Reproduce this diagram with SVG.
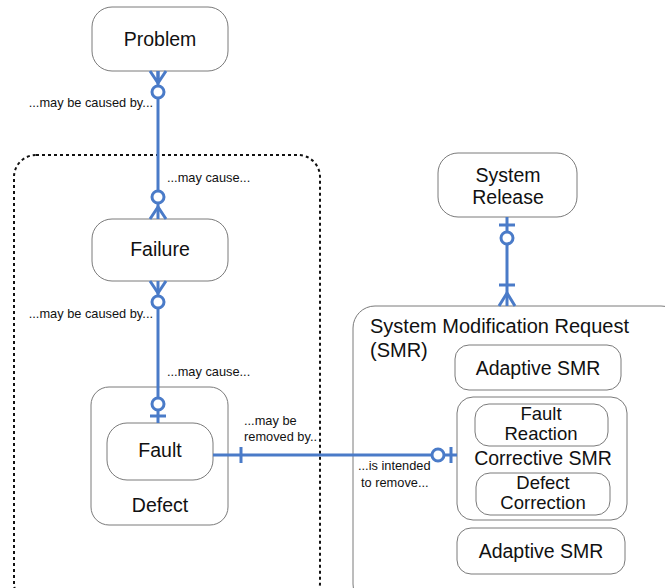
<svg xmlns="http://www.w3.org/2000/svg" width="665" height="588" viewBox="0 0 665 588">
<style>
.box{fill:#fff;stroke:#7a7a7a;stroke-width:1}
.t{font-family:"Liberation Sans",Arial,sans-serif;font-size:19.5px;fill:#111;text-anchor:middle}
.s{font-size:18.5px}
.l{font-family:"Liberation Sans",Arial,sans-serif;font-size:12.8px;fill:#111}
.c{fill:none;stroke:#4a7bc8;stroke-width:3}
.ci{fill:#fff;stroke:#4a7bc8;stroke-width:3}
</style>
<rect width="665" height="588" fill="#fff"/>
<g id="defect-scope">
<rect x="14" y="155" width="306" height="450" rx="22" fill="none" stroke="#111" stroke-width="2" stroke-dasharray="3,3"/>
</g>
<g id="problem"><rect class="box" x="92" y="7" width="136" height="64" rx="20"/><text class="t" x="160" y="46">Problem</text></g>
<g id="failure"><rect class="box" x="92" y="219" width="136" height="62" rx="20"/><text class="t" x="160" y="256">Failure</text></g>
<g id="defect"><rect class="box" x="91" y="387" width="137" height="138" rx="18"/><text class="t" x="160" y="512">Defect</text></g>
<g id="fault"><rect class="box" x="107" y="423" width="106" height="57" rx="20"/><text class="t" x="160" y="457">Fault</text></g>
<g id="system-release"><rect class="box" x="438" y="153" width="139" height="64" rx="20"/><text class="t" x="508" y="182">System</text><text class="t" x="508" y="204">Release</text></g>
<g id="smr"><rect class="box" x="353" y="306" width="330" height="300" rx="22"/><text class="t" x="370" y="333" style="text-anchor:start;font-size:20px">System Modification Request</text><text class="t" x="370" y="357" style="text-anchor:start;font-size:20px">(SMR)</text></g>
<g id="adaptive-smr-1"><rect class="box" x="455" y="345" width="166" height="45" rx="14"/><text class="t" x="538" y="375">Adaptive SMR</text></g>
<g id="corrective-smr"><rect class="box" x="457" y="397" width="170" height="123" rx="16"/><text class="t" x="543" y="465">Corrective SMR</text></g>
<g id="fault-reaction"><rect class="box" x="475" y="404" width="133" height="42" rx="14"/><text class="t s" x="541" y="420">Fault</text><text class="t s" x="541" y="440">Reaction</text></g>
<g id="defect-correction"><rect class="box" x="476" y="473" width="134" height="42" rx="14"/><text class="t s" x="543" y="489">Defect</text><text class="t s" x="543" y="509">Correction</text></g>
<g id="adaptive-smr-2"><rect class="box" x="457" y="528" width="168" height="46" rx="14"/><text class="t" x="541" y="558">Adaptive SMR</text></g>
<g id="connectors">
<line class="c" x1="158" y1="71" x2="158" y2="219"/>
<path class="c" d="M150 71 L158 83 L166 71 M158 71 L158 83"/>
<circle class="ci" cx="158" cy="92" r="6"/>
<path class="c" d="M150 219 L158 207 L166 219"/>
<circle class="ci" cx="158" cy="197" r="6"/>
<line class="c" x1="158" y1="281" x2="158" y2="423"/>
<path class="c" d="M150 281 L158 293 L166 281"/>
<circle class="ci" cx="158" cy="302" r="6"/>
<circle class="ci" cx="158" cy="404" r="6"/>
<line class="c" x1="150" y1="416" x2="166" y2="416"/>
<line class="c" x1="507" y1="217" x2="507" y2="306"/>
<line class="c" x1="499" y1="225" x2="515" y2="225"/>
<circle class="ci" cx="507" cy="238" r="6"/>
<line class="c" x1="499" y1="285" x2="515" y2="285"/>
<path class="c" d="M499 306 L507 293 L515 306"/>
<line class="c" x1="213" y1="455" x2="457" y2="455"/>
<line class="c" x1="241" y1="447" x2="241" y2="463"/>
<circle class="ci" cx="438" cy="455" r="6"/>
<line class="c" x1="451" y1="447" x2="451" y2="463"/>
</g>
<g id="labels">
<text class="l" x="153" y="107" text-anchor="end">...may be caused by...</text>
<text class="l" x="167" y="182">...may cause...</text>
<text class="l" x="153" y="318" text-anchor="end">...may be caused by...</text>
<text class="l" x="167" y="376">...may cause...</text>
<text class="l" x="244" y="425">...may be</text>
<text class="l" x="244" y="441">removed by..</text>
<text class="l" x="358" y="470">...is intended</text>
<text class="l" x="361" y="487">to remove...</text>
</g>
</svg>
